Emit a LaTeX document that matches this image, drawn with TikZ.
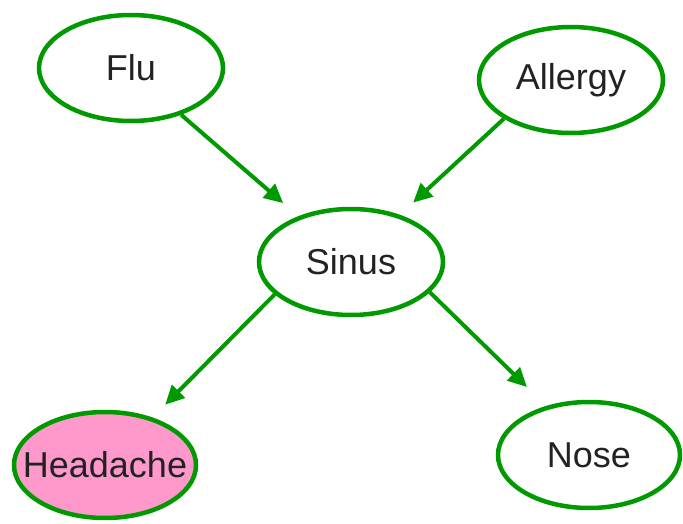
\documentclass[tikz,border=0pt]{standalone}
\usepackage{fontspec}
\setmainfont{Liberation Sans}
\usetikzlibrary{shapes.geometric,arrows.meta}
\definecolor{edgegreen}{HTML}{009900}
\definecolor{pinkfill}{HTML}{FF99CC}
\definecolor{txt}{HTML}{222222}
\tikzset{
  var/.style={ellipse, draw=edgegreen, line width=4.5pt, inner sep=0pt,
    minimum width=184pt, minimum height=106pt, text=txt,
    font=\fontsize{36}{43}\selectfont},
  link/.style={draw=edgegreen, line width=4pt,
    -{Triangle[length=19pt,width=18pt]}}
}
\begin{document}
\begin{tikzpicture}[x=1pt,y=-1pt]
\useasboundingbox (0,0) rectangle (683,524);
\node[var] (flu) at (131,68) {\makebox[0pt]{Flu}};
\node[var] (allergy) at (571,80) {\makebox[0pt]{Allergy}};
\node[var] (sinus) at (351,262) {\makebox[0pt]{Sinus}};
\node[var, fill=pinkfill, minimum width=182pt] (headache) at (105,465) {\makebox[0pt]{Headache}};
\node[var, minimum width=182pt] (nose) at (589,455) {\makebox[0pt]{Nose}};
\draw[link, shorten >=20pt] (flu.-43) -- (sinus.139);
\draw[link, shorten >=18pt] (allergy.210) -- (sinus.44);
\draw[link, shorten >=18pt] (sinus.203) -- (headache.45);
\draw[link, shorten >=27pt] (sinus.-21) -- (nose.131);
\end{tikzpicture}
\end{document}
